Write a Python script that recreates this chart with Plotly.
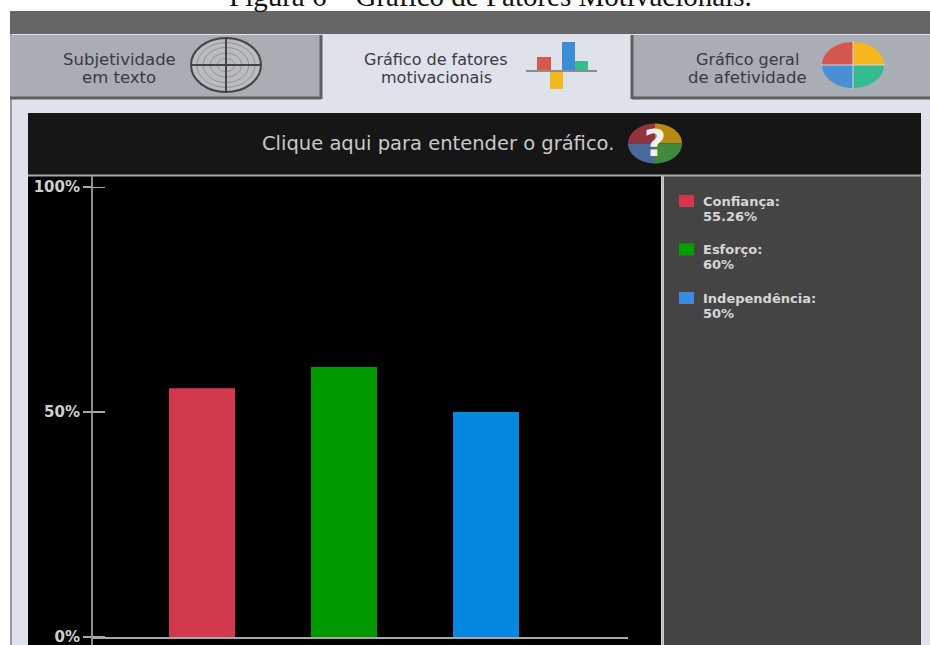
import numpy as np
import plotly.graph_objects as go

W, H = 930, 645

# Chart values
factors = ["Confiança", "Esforço", "Independência"]
percentages = [55.26, 60, 50]
value_labels = ["55.26%", "60%", "50%"]
bar_colors = ["#d3394c", "#009a00", "#0588e0"]
swatch_colors = ["#d8344c", "#00a000", "#3a8ae0"]
tick_values = [0, 50, 100]
tick_labels = ["0%", "50%", "100%"]


def px(x):
    return x / W


def py(y):
    return 1 - y / H


shapes = []
annotations = []


def rect(x0, y0, x1, y1, fill, line=None, lw=0):
    shapes.append(dict(type="rect", xref="paper", yref="paper", layer="below",
                       x0=px(x0), x1=px(x1), y0=py(y0), y1=py(y1), fillcolor=fill,
                       line=dict(color=line or fill, width=lw)))


def hline(x0, x1, y, color, width=2):
    shapes.append(dict(type="line", xref="paper", yref="paper", layer="below",
                       x0=px(x0), x1=px(x1), y0=py(y), y1=py(y),
                       line=dict(color=color, width=width)))


def vline(x, y0, y1, color, width=2):
    shapes.append(dict(type="line", xref="paper", yref="paper", layer="below",
                       x0=px(x), x1=px(x), y0=py(y0), y1=py(y1),
                       line=dict(color=color, width=width)))


def ellipse(cx, cy, rx, ry, fill="rgba(0,0,0,0)", line="#555", lw=1):
    shapes.append(dict(type="circle", xref="paper", yref="paper", layer="below",
                       x0=px(cx - rx), x1=px(cx + rx), y0=py(cy - ry), y1=py(cy + ry),
                       fillcolor=fill, line=dict(color=line, width=lw)))


def wedge(cx, cy, rx, ry, a0, a1, fill):
    angles = np.radians(np.linspace(a0, a1, 24))
    pts = [(cx, cy)] + [(cx + rx * np.cos(a), cy + ry * np.sin(a)) for a in angles]
    path = "M" + " L".join(f"{px(x):.5f},{py(y):.5f}" for x, y in pts) + " Z"
    shapes.append(dict(type="path", xref="paper", yref="paper", layer="below",
                       path=path, fillcolor=fill, line=dict(width=0)))


def label(x, y, text, size, color, family="DejaVu Sans", anchor="center"):
    annotations.append(dict(xref="paper", yref="paper", x=px(x), y=py(y), text=text,
                            showarrow=False, xanchor=anchor, yanchor="middle",
                            align=anchor, borderpad=0,
                            font=dict(family=family, size=size, color=color)))


# Window chrome
rect(10, 11, 930, 645, "#dfe2ea")
vline(11, 11, 645, "#9a9a9a", 2)
rect(10, 11, 930, 34, "#666666")

# Tabs
rect(10, 35, 321, 98, "#a9adb4")
hline(10, 321, 98, "#5f5f5f", 3)
vline(321, 35, 99, "#5f5f5f", 3)
rect(633, 35, 930, 98, "#a9adb4")
hline(632, 930, 98, "#5f5f5f", 3)
vline(632, 35, 99, "#5f5f5f", 3)

TAB_TEXT = "#3a3a44"
label(119, 60, "Subjetividade", 16.5, TAB_TEXT)
label(119, 78, "em texto", 16.5, TAB_TEXT)
label(436, 60, "Gráfico de fatores", 16, TAB_TEXT)
label(436, 78, "motivacionais", 16, TAB_TEXT)
label(747, 60, "Gráfico geral", 16, TAB_TEXT)
label(747, 78, "de afetividade", 16.5, TAB_TEXT)

# Target icon on the first tab
ellipse(226, 65, 35, 27, "#b9bcc0", "#444444", 2)
for k in (0.25, 0.45, 0.65, 0.83):
    ellipse(226, 65, 35 * k, 27 * k, "rgba(0,0,0,0)", "#8f9296", 1)
hline(191, 261, 65, "#444444", 2)
vline(226, 38, 92, "#444444", 2)

# Bar icon on the second tab
rect(537, 57, 551, 71, "#d8574b")
rect(562, 42, 575, 71, "#3d8cd6")
rect(575, 61, 588, 71, "#35bd90")
rect(550, 71, 563, 89, "#f6b820")
hline(526, 597, 71, "#8a8c90", 2)

# Pie icon on the third tab
wedge(853, 65, 31, 23, 180, 270, "#d4574e")
wedge(853, 65, 31, 23, 270, 360, "#f6b71d")
wedge(853, 65, 31, 23, 0, 90, "#35b98f")
wedge(853, 65, 31, 23, 90, 180, "#4a8fd6")
vline(853, 41, 89, "#d5d7dc", 1)
hline(821, 885, 65, "#d5d7dc", 1)

# Help banner
rect(28, 113, 921, 175, "#161616")
label(438, 143, "Clique aqui para entender o gráfico.", 19.5, "#c9c9c9")
wedge(655, 143.5, 27, 20, 180, 270, "#93333d")
wedge(655, 143.5, 27, 20, 270, 360, "#b98a10")
wedge(655, 143.5, 27, 20, 0, 90, "#3f8a3c")
wedge(655, 143.5, 27, 20, 90, 180, "#4a6a9e")
label(655, 143, "<b>?</b>", 38, "#f1f1f1")

# Plot area and side panel
rect(28, 176, 661, 645, "#000000")
rect(664, 176, 921, 645, "#444444")
hline(28, 921, 175.5, "#a8a8a8", 2)
vline(662.5, 175, 645, "#b5b5b5", 2)
vline(92, 176, 645, "#8c8c8c", 2)

# Right-hand half of each tick, crossing the vertical axis
for v in tick_values:
    shapes.append(dict(type="line", xref="paper", yref="y", layer="below",
                       x0=px(92), x1=px(105), y0=v, y1=v,
                       line=dict(color="#a8a8a8", width=2)))

# Key beside the plot: swatch, factor name and its percentage
for i, (name, text, color) in enumerate(zip(factors, value_labels, swatch_colors)):
    top = 201 + 48.5 * i
    rect(679, top - 6, 694, top + 6, color)
    label(702, top, f"<b>{name}:</b>", 13, "#d6d6d6", anchor="left")
    label(702, top + 15, f"<b>{text}</b>", 13, "#d6d6d6", anchor="left")

# Caption above the window, partly past the top of the page
label(490, -4, "Figura 6 – Gráfico de Fatores Motivacionais.", 29, "#111111",
      family="Liberation Serif")

fig = go.Figure()
for name, value, color in zip(factors, percentages, bar_colors):
    fig.add_trace(go.Bar(x=[name], y=[value], name=name,
                         marker=dict(color=color, line=dict(width=0)),
                         width=66 / 142, hoverinfo="skip"))

fig.update_layout(
    width=W, height=H,
    margin=dict(l=0, r=0, t=0, b=0),
    autosize=False,
    paper_bgcolor="#ffffff",
    plot_bgcolor="rgba(0,0,0,0)",
    barmode="overlay",
    showlegend=False,
    shapes=shapes,
    annotations=annotations,
    xaxis=dict(domain=[px(92), px(628)], range=[-110 / 142, 3], type="category",
               categoryorder="array", categoryarray=factors, automargin=False,
               showticklabels=False, ticks="", showgrid=False, zeroline=False,
               showline=True, linecolor="#a8a8a8", linewidth=2, anchor="y"),
    yaxis=dict(domain=[py(637), py(187)], range=[0, 100], tickmode="array",
               tickvals=tick_values, ticktext=tick_labels, ticks="outside", ticklen=8,
               tickcolor="#a8a8a8", tickwidth=2, showgrid=False, zeroline=False,
               showline=False, ticklabeloverflow="allow", automargin=False,
               tickfont=dict(family="DejaVu Sans", size=15, color="#cfcfcf", weight="bold"),
               anchor="x"),
)

fig.write_html("out.html")
